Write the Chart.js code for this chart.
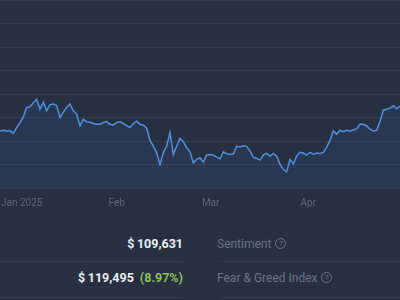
<!DOCTYPE html>
<html>
<head>
<meta charset="utf-8">
<script src="https://cdn.jsdelivr.net/npm/chart.js@4"></script>
<style>
  html, body { margin: 0; padding: 0; }
  body { width: 400px; height: 300px; overflow: hidden; background: #263041; font-family: Roboto, "Noto Sans", sans-serif; position: relative; }
  #wrap { position: absolute; left: 0; top: 0; width: 400px; height: 218px; }
  .val { position: absolute; right: 217px; font-size: 12.5px; font-weight: 700; color: #e9edf2; line-height: 16px; white-space: nowrap; }
  .pct { color: #8dbf5b; margin-left: 6px; }
  .lbl { position: absolute; left: 217px; font-size: 12px; color: #6a7487; line-height: 16px; white-space: nowrap; }
  .q { display: inline-block; box-sizing: border-box; width: 11px; height: 11px; border: 1px solid #6a7487; border-radius: 50%; font-size: 8px; line-height: 9px; text-align: center; margin-left: 4px; vertical-align: middle; position: relative; top: -1px; }
  .sep { position: absolute; height: 1px; background: #313c4e; }
</style>
</head>
<body>
<div id="wrap"><canvas id="grafico"></canvas></div>

<div class="val" style="top:236px">$&#8201;109,631</div>
<div class="lbl" style="top:236px">Sentiment<span class="q">?</span></div>
<div class="sep" style="top:261px; left:0; width:183px"></div>
<div class="sep" style="top:261px; left:220px; width:180px"></div>
<div class="val" style="top:270px">$&#8201;119,495<span class="pct">(8.97%)</span></div>
<div class="lbl" style="top:270px">Fear &amp; Greed Index<span class="q">?</span></div>
<div class="sep" style="top:297px; left:0; width:183px"></div>
<div class="sep" style="top:297px; left:220px; width:180px"></div>

<script>
// price samples, evenly spaced across the chart
precios = [
  81930, 82070, 81930, 82000, 81440, 82630, 83680, 84870, 86830, 86980,
  87820, 88520, 86480, 87960, 86130, 87400, 87540, 87260, 84730, 85850,
  86830, 87540, 86130, 85430, 82980, 84380, 83820, 83750, 83470, 83330,
  83330, 83680, 83890, 83330, 83190, 83680, 83890, 83470, 83050, 82630,
  83470, 84030, 83330, 83120, 82490, 79960, 78770, 77370, 74910, 77370,
  78770, 81580, 77020, 78770, 80380, 79680, 78420, 77580, 75270, 75970,
  76320, 75410, 76880, 77020, 76880, 76460, 76110, 77580, 77160, 77020,
  77160, 78700, 78560, 78840, 78700, 77720, 76460, 76180, 75830, 76880,
  77300, 76670, 77160, 76670, 74910, 73860, 73370, 75970, 75050, 76670,
  77440, 77300, 76880, 77440, 77020, 77300, 77230, 77440, 78560, 79960,
  81930, 81230, 82070, 81790, 82070, 81930, 82140, 82420, 83330, 83330,
  82980, 82280, 81930, 82070, 83890, 86270, 86480, 86690, 87190, 86550,
  87120
];
// where the month labels sit, in sample index
marcasPos = [6.5, 35, 63.2, 92.5];
marcasTexto = ['Jan 2025', 'Feb', 'Mar', 'Apr'];

puntos = [];
for (i = 0; i < precios.length; i++) {
    puntos.push({x: i, y: precios[i]});
}

const ctx = document.getElementById('grafico');

new Chart(ctx, {
  type: 'line',
  data: {
    datasets: [{
      data: puntos,
      borderColor: '#4f8fe0',
      borderWidth: 1.5,
      backgroundColor: 'rgba(61,105,170,0.15)',
      fill: 'start',
      pointRadius: 0,
      tension: 0
    }]
  },
  options: {
    responsive: true,
    maintainAspectRatio: false,
    animation: false,
    layout: { padding: 0, autoPadding: false },
    plugins: { legend: { display: false }, tooltip: { enabled: false } },
    scales: {
      x: {
        type: 'linear',
        min: 0,
        max: precios.length - 1,
        grid: { display: false, drawTicks: false },
        border: { display: false },
        afterBuildTicks: function(scale) {
          scale.ticks = marcasPos.map(function(v) { return {value: v}; });
        },
        // no extra room for the first label, the chart runs edge to edge
        afterFit: function(scale) { scale.paddingLeft = 0; scale.paddingRight = 0; },
        ticks: {
          padding: 9,
          maxRotation: 0,
          autoSkip: false,
          color: '#5d6779',
          font: { family: 'Roboto', size: 10 },
          callback: function(v) {
            k = marcasPos.indexOf(v);
            return k >= 0 ? marcasTexto[k] : '';
          }
        }
      },
      y: {
        min: 70000,
        max: 109300,
        bounds: 'data',
        border: { display: false },
        grid: { color: '#333e51', drawTicks: false },
        ticks: { display: false, padding: 0, stepSize: 5000, includeBounds: false },
        afterFit: function(scale) { scale.width = 0; }
      }
    }
  }
});
</script>
</body>
</html>
